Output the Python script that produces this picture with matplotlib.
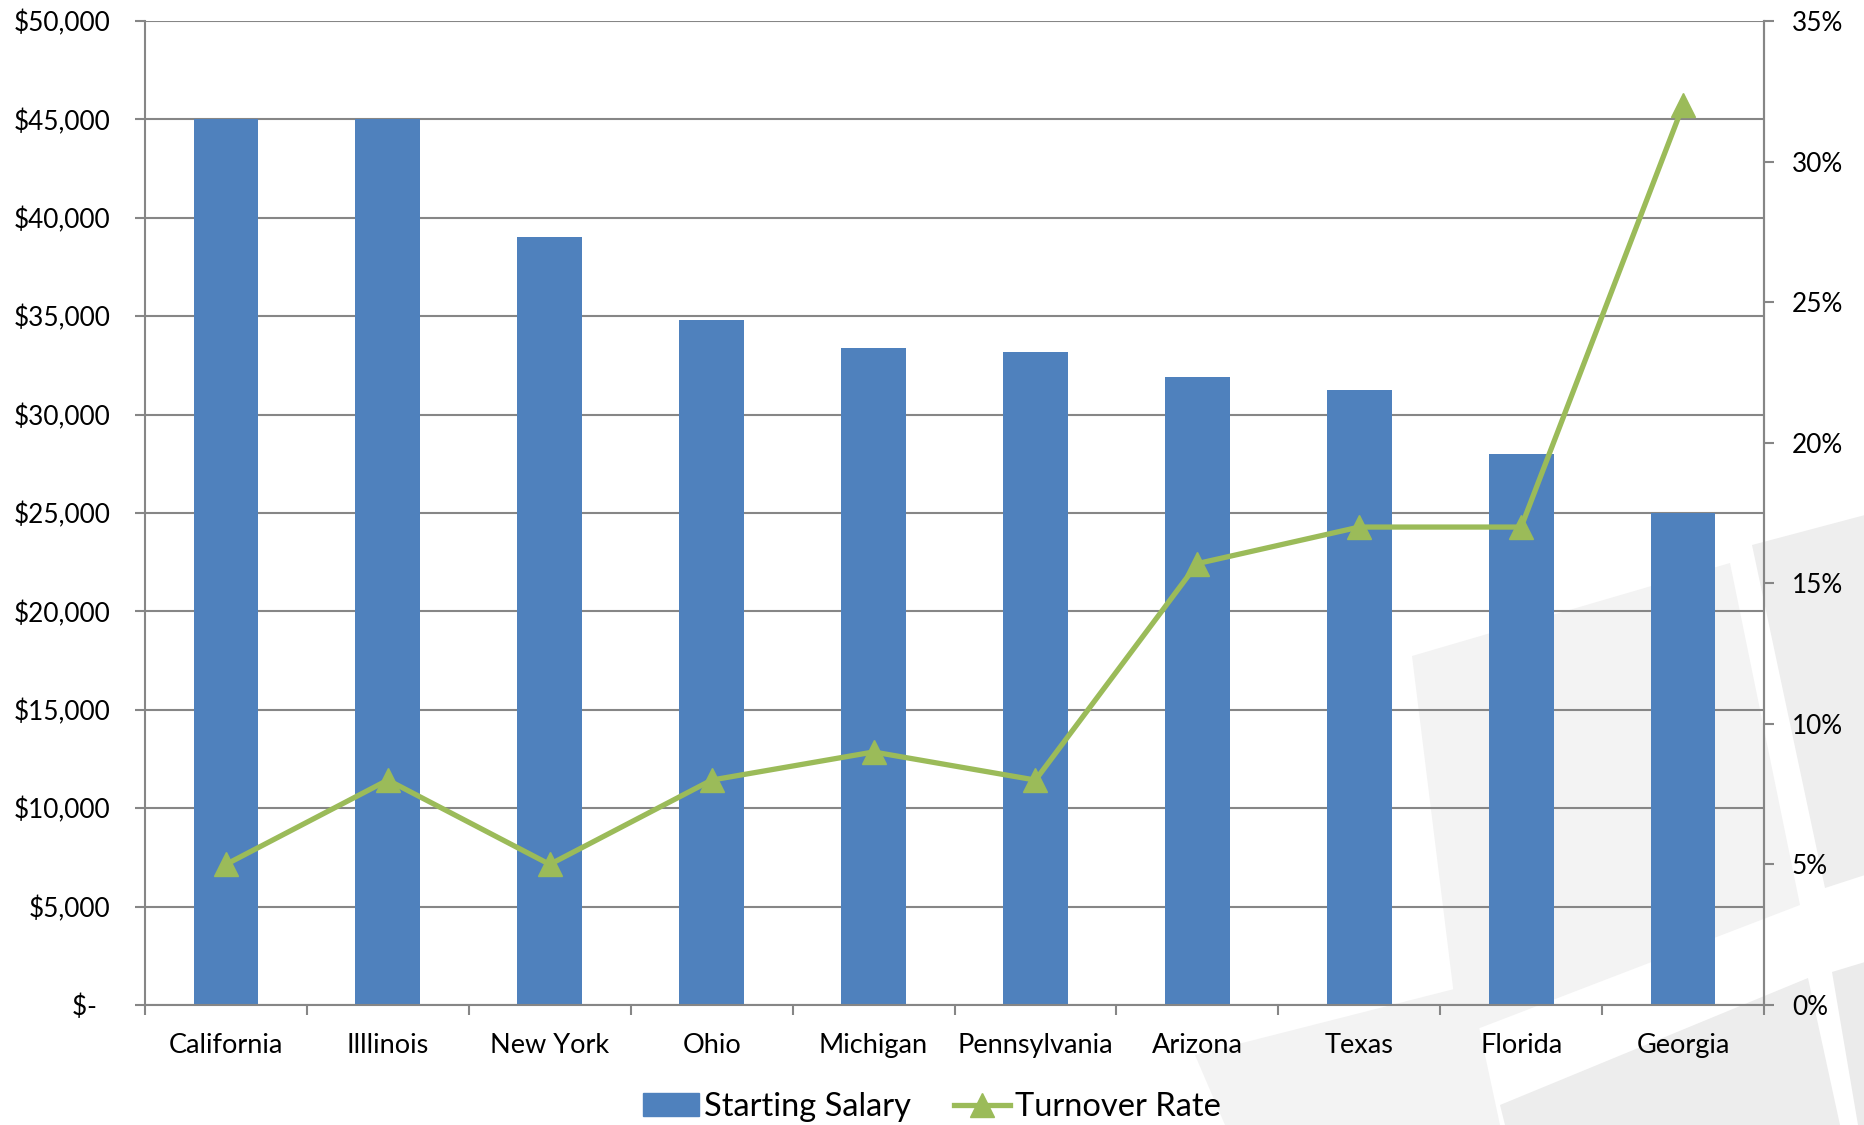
import numpy as np
import matplotlib
matplotlib.use("Agg")
import matplotlib.pyplot as plt
from matplotlib.patches import Polygon
from matplotlib.ticker import FuncFormatter, FixedLocator

# data
states = ["California", "Illlinois", "New York", "Ohio", "Michigan",
          "Pennsylvania", "Arizona", "Texas", "Florida", "Georgia"]
salary = [45000, 45000, 39000, 34800, 33400, 33200, 31900, 31250, 28000, 25000]
turnover = [5.0, 8.0, 5.0, 8.0, 9.0, 8.0, 15.7, 17.0, 17.0, 32.0]

W, H = 1865, 1125
bar_color = "#4F81BD"
line_color = "#9BBB59"
grid_color = "#868686"

fig = plt.figure(figsize=(W / 100, H / 100), dpi=100)
fig.patch.set_facecolor("white")

# faint tiled decoration in the lower right corner (pixel coords, top-left origin)
tiles = [
    ([(1412, 656), (1730, 563), (1800, 905), (1459, 1036)], "#F3F3F3"),
    ([(1752, 545), (1865, 515), (1865, 875), (1825, 888)], "#EEEEEE"),
    ([(1195, 1055), (1470, 985), (1500, 1125), (1225, 1125)], "#F3F3F3"),
    ([(1500, 1105), (1808, 978), (1840, 1125), (1505, 1125)], "#EDEDED"),
    ([(1832, 972), (1865, 962), (1865, 1125), (1858, 1125)], "#EBEBEB"),
]
for pts, c in tiles:
    xy = [(x / W, 1 - y / H) for x, y in pts]
    fig.patches.append(Polygon(xy, closed=True, transform=fig.transFigure,
                               facecolor=c, edgecolor="none", zorder=-10))

ax = fig.add_axes([145 / W, 1 - 1005 / H, (1764 - 145) / W, (1005 - 21) / H])
ax.set_facecolor("none")
x = np.arange(len(states))
ax.bar(x, salary, width=0.4, color=bar_color, zorder=2)
ax.set_xlim(-0.5, len(states) - 0.5)
ax.set_ylim(0, 50000)
ax.set_yticks(np.arange(0, 50001, 5000))
ax.yaxis.set_major_formatter(FuncFormatter(
    lambda v, p: "$-  " if v == 0 else "${:,.0f}".format(v)))
ax.grid(axis="y", color=grid_color, linewidth=1.5, zorder=1)
ax.set_axisbelow(True)

ax.set_xticks(x)
ax.set_xticklabels(states, fontsize=19.5, family="Lato")
ax.xaxis.set_minor_locator(FixedLocator(np.arange(-0.5, len(states), 1.0)))
ax.tick_params(axis="x", which="major", length=0, pad=20)
ax.tick_params(axis="x", which="minor", length=7, width=1.5, color=grid_color)
ax.tick_params(axis="y", length=7, width=1.5, color=grid_color, pad=18,
               labelsize=18.8)
for lab in ax.get_yticklabels():
    lab.set_family("Lato")

for s in ["left", "bottom", "right"]:
    ax.spines[s].set_color(grid_color)
    ax.spines[s].set_linewidth(1.5)
ax.spines["top"].set_visible(False)

ax2 = ax.twinx()
ax2.plot(x, turnover, color=line_color, linewidth=3.8, marker="^",
         markersize=17, zorder=3)
ax2.set_ylim(0, 35)
ax2.set_yticks(np.arange(0, 36, 5))
ax2.yaxis.set_major_formatter(FuncFormatter(lambda v, p: "{:.0f}%".format(v)))
ax2.tick_params(axis="y", length=7, width=1.5, color=grid_color, pad=13,
                labelsize=18.8)
for lab in ax2.get_yticklabels():
    lab.set_family("Lato")
for s in ["left", "top", "bottom"]:
    ax2.spines[s].set_visible(False)
ax2.spines["right"].set_color(grid_color)
ax2.spines["right"].set_linewidth(1.5)

# legend handles
h1 = plt.Rectangle((0, 0), 1, 1, color=bar_color)
h2, = ax2.plot([], [], color=line_color, linewidth=3.8, marker="^",
               markersize=17)
fig.legend([h1, h2], ["Starting Salary", "Turnover Rate"], loc="center",
           bbox_to_anchor=(932 / W, 1 - 1107 / H), ncol=2, frameon=False,
           prop={"family": "Lato", "size": 23.5}, handlelength=1.72,
           handleheight=0.7, handletextpad=0.16, columnspacing=1.3)

fig.savefig("out.png", dpi=100)
